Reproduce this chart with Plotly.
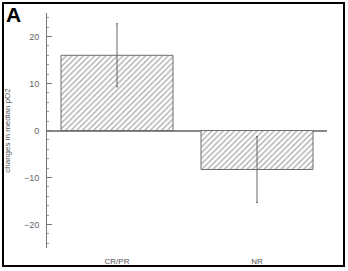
import plotly.graph_objects as go

categories = ["CR/PR", "NR"]
values = [16.0, -8.3]
errors = [6.7, 7.0]
y_ticks = [-20, -10, 0, 10, 20]

W, H = 348, 271
L, R, T, B = 47, 21, 13, 23
pw, ph = W - L - R, H - T - B

fig = go.Figure()
fig.add_trace(go.Bar(
    x=categories, y=values, width=0.8,
    marker=dict(
        color="white",
        line=dict(color="#6e6e6e", width=1),
        pattern=dict(shape="/", fgcolor="#5e5e5e", bgcolor="white", size=4, solidity=0.35),
    ),
    error_y=dict(type="data", array=errors, visible=True, color="#666666", thickness=1, width=1),
    showlegend=False,
))

fig.update_layout(
    width=W, height=H,
    margin=dict(l=L, r=R, t=T, b=B),
    paper_bgcolor="white", plot_bgcolor="white",
    font=dict(family="Liberation Sans, Arial, sans-serif", color="#555555", size=8),
    bargap=0.2,
)
fig.update_xaxes(
    range=[-0.5, 1.5], showgrid=False, showline=False, ticks="",
    tickfont=dict(size=8, color="#555555"), ticklabelstandoff=7, automargin=False,
)
fig.update_yaxes(
    range=[-25, 25], tickvals=y_ticks, showgrid=False,
    showline=True, linecolor="#777777", linewidth=1,
    ticks="inside", ticklen=5, tickcolor="#777777", tickwidth=1,
    minor=dict(ticks="inside", ticklen=2, dtick=2, tickcolor="#999999", tickwidth=1),
    zeroline=True, zerolinecolor="#888888", zerolinewidth=1.5,
    tickfont=dict(size=9, color="#666666"), ticklabelstandoff=5, automargin=False,
    title=dict(text="changes in median pO2", font=dict(size=8, color="#555555"), standoff=12),
)

# outer frame
fig.add_shape(type="rect", xref="paper", yref="paper",
              x0=(3 - L) / pw, x1=(344 - L) / pw,
              y0=(H - B - 266) / ph, y1=(H - B - 3) / ph,
              line=dict(color="black", width=2), fillcolor="rgba(0,0,0,0)")

fig.add_annotation(text="<b>A</b>", xref="paper", yref="paper",
                   x=(4 - L) / pw, y=(H - B - 1) / ph, xanchor="left", yanchor="top",
                   showarrow=False, font=dict(size=21, color="black", family="Liberation Sans, Arial"))

fig.write_html("out.html")
